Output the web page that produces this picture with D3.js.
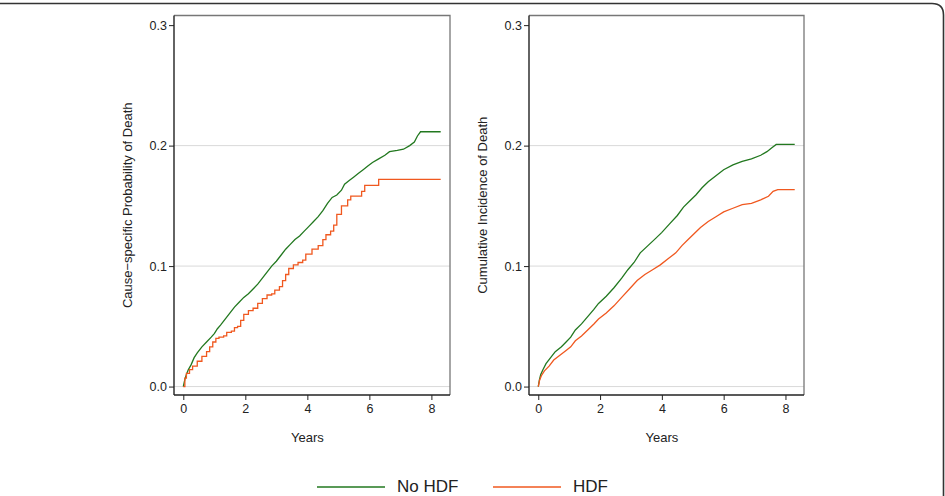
<!DOCTYPE html>
<html>
<head>
<meta charset="utf-8">
<script src="https://cdn.jsdelivr.net/npm/d3@7"></script>
<style>
  body { margin: 0; background: #fff; }
  svg { display: block; font-family: "Liberation Sans", Arial, sans-serif; }
</style>
</head>
<body>
<svg id="chart" width="945" height="496"></svg>
<script>
// values: [years, probability]
const leftNoHdf = [
  [0, 0], [0.05, 0.006], [0.1, 0.010], [0.16, 0.014], [0.25, 0.018], [0.35, 0.024],
  [0.45, 0.028], [0.6, 0.033], [0.75, 0.037], [0.9, 0.041], [1.0, 0.044], [1.1, 0.048],
  [1.2, 0.051], [1.35, 0.056], [1.5, 0.061], [1.65, 0.066], [1.8, 0.070], [1.95, 0.074],
  [2.1, 0.077], [2.25, 0.081], [2.4, 0.085], [2.55, 0.090], [2.7, 0.095], [2.85, 0.100],
  [3.0, 0.104], [3.15, 0.109], [3.3, 0.114], [3.45, 0.118], [3.6, 0.122], [3.75, 0.125],
  [3.9, 0.129], [4.05, 0.133], [4.2, 0.137], [4.35, 0.141], [4.5, 0.146], [4.65, 0.152],
  [4.8, 0.157], [4.95, 0.159], [5.1, 0.163], [5.2, 0.168], [5.35, 0.171], [5.5, 0.174],
  [5.65, 0.177], [5.8, 0.180], [5.95, 0.183], [6.1, 0.186], [6.3, 0.189], [6.5, 0.192],
  [6.65, 0.195], [6.9, 0.196], [7.1, 0.197], [7.3, 0.200], [7.45, 0.203], [7.55, 0.208],
  [7.65, 0.2115], [8.3, 0.2115]
];
const leftHdf = [
  [0, 0], [0.05, 0.007], [0.1, 0.011], [0.2, 0.014], [0.3, 0.017], [0.45, 0.021],
  [0.6, 0.025], [0.75, 0.029], [0.85, 0.033], [0.95, 0.037], [1.05, 0.040], [1.15, 0.041],
  [1.3, 0.042], [1.4, 0.045], [1.55, 0.046], [1.65, 0.049], [1.75, 0.050], [1.85, 0.055],
  [1.95, 0.060], [2.1, 0.063], [2.25, 0.065], [2.4, 0.069], [2.55, 0.073], [2.7, 0.076],
  [2.85, 0.077], [2.95, 0.080], [3.1, 0.083], [3.2, 0.088], [3.3, 0.093], [3.4, 0.098],
  [3.55, 0.101], [3.7, 0.103], [3.85, 0.105], [3.95, 0.110], [4.15, 0.114], [4.35, 0.117],
  [4.5, 0.122], [4.6, 0.126], [4.75, 0.129], [4.85, 0.134], [4.95, 0.143], [5.1, 0.150],
  [5.3, 0.155], [5.4, 0.158], [5.75, 0.162], [5.85, 0.167], [6.3, 0.172], [8.3, 0.172]
];
const rightNoHdf = [
  [0, 0], [0.04, 0.006], [0.08, 0.010], [0.15, 0.014], [0.25, 0.019], [0.4, 0.024],
  [0.55, 0.029], [0.75, 0.033], [0.9, 0.037], [1.05, 0.041], [1.2, 0.047], [1.4, 0.052],
  [1.6, 0.058], [1.8, 0.064], [1.95, 0.069], [2.2, 0.075], [2.45, 0.082], [2.7, 0.090],
  [2.9, 0.097], [3.1, 0.103], [3.3, 0.111], [3.55, 0.117], [3.8, 0.123], [4.0, 0.128],
  [4.25, 0.135], [4.5, 0.142], [4.7, 0.149], [4.9, 0.154], [5.1, 0.159], [5.3, 0.165],
  [5.5, 0.170], [5.75, 0.175], [6.0, 0.180], [6.3, 0.184], [6.6, 0.187], [6.9, 0.189],
  [7.2, 0.192], [7.4, 0.195], [7.55, 0.198], [7.7, 0.201], [8.3, 0.201]
];
const rightHdf = [
  [0, 0], [0.04, 0.005], [0.1, 0.009], [0.2, 0.013], [0.35, 0.017], [0.5, 0.022],
  [0.7, 0.026], [0.9, 0.030], [1.05, 0.033], [1.2, 0.038], [1.4, 0.042], [1.6, 0.047],
  [1.8, 0.052], [1.95, 0.056], [2.2, 0.061], [2.45, 0.067], [2.7, 0.074], [2.95, 0.081],
  [3.2, 0.088], [3.45, 0.093], [3.7, 0.097], [3.95, 0.101], [4.2, 0.106], [4.45, 0.111],
  [4.65, 0.117], [4.85, 0.122], [5.05, 0.127], [5.25, 0.132], [5.5, 0.137], [5.75, 0.141],
  [6.0, 0.145], [6.3, 0.148], [6.6, 0.151], [6.9, 0.152], [7.2, 0.155], [7.45, 0.158],
  [7.6, 0.162], [7.75, 0.1635], [8.3, 0.1635]
];

const xTicks = [0, 2, 4, 6, 8];
const yTicks = [0.0, 0.1, 0.2, 0.3];
const gridTicks = [0.0, 0.1, 0.2];
const seriesNames = ["No HDF", "HDF"];
const seriesColors = ["#22781f", "#f0581f"];

const svg = d3.select("#chart");

// outer frame (top edge with rounded right corner)
svg.append("path")
  .attr("d", "M0,3.5 H932 Q943.5,3.5 943.5,15 V496")
  .attr("fill", "none")
  .attr("stroke", "#333")
  .attr("stroke-width", 1.6);

// curves: [noHdf, hdf] each with its own interpolation
function panel(left, right, yTitle, noHdf, hdf, curves) {
  let x = d3.scaleLinear().domain([-0.3, 8.6]).range([left, right]);
  let y = d3.scaleLinear().domain([-0.007, 0.308]).range([395, 15.5]);
  let g = svg.append("g");

  g.selectAll("line.grid")
    .data(gridTicks)
    .enter().append("line")
    .attr("class", "grid")
    .attr("x1", left).attr("x2", right)
    .attr("y1", d => y(d)).attr("y2", d => y(d))
    .attr("stroke", "#d9d9d9")
    .attr("stroke-width", 1);

  // box (top + right lighter)
  g.append("path")
    .attr("d", `M${left},${y.range()[1]} H${right} V${y.range()[0]}`)
    .attr("fill", "none")
    .attr("stroke", "#777")
    .attr("stroke-width", 1.3);

  [noHdf, hdf].forEach(function (data, i) {
    let line = d3.line()
      .x(d => x(d[0]))
      .y(d => y(d[1]))
      .curve(curves[i]);
    g.append("path")
      .datum(data)
      .attr("d", line)
      .attr("fill", "none")
      .attr("stroke", seriesColors[i])
      .attr("stroke-width", 1.3);
  });

  let yAxis = g.append("g")
    .attr("transform", `translate(${left},0)`)
    .call(d3.axisLeft(y).tickValues(yTicks).tickFormat(d3.format(".1f")).tickSize(5).tickPadding(2));
  let xAxis = g.append("g")
    .attr("transform", `translate(0,${y.range()[0]})`)
    .call(d3.axisBottom(x).tickValues(xTicks).tickFormat(d3.format("d")).tickSize(5).tickPadding(4));

  [yAxis, xAxis].forEach(function (a) {
    a.select(".domain").attr("stroke", "#222").attr("stroke-width", 1.4);
    a.selectAll(".tick line").attr("stroke", "#222");
    a.selectAll(".tick text")
      .attr("fill", "#222")
      .style("font-family", "Liberation Sans, Arial, sans-serif")
      .style("font-size", "12.5px");
  });
  // axis domain lines: keep them straight (no outer tick hooks)
  yAxis.select(".domain").attr("d", `M0,${y.range()[0]}V${y.range()[1]}`);
  xAxis.select(".domain").attr("d", `M${left},0H${right}`);

  g.append("text")
    .attr("x", (x(0) + x(8)) / 2)
    .attr("y", 442)
    .attr("text-anchor", "middle")
    .attr("fill", "#222")
    .style("font-size", "13px")
    .text("Years");

  g.append("text")
    .attr("transform", `translate(${left - 42},${(y.range()[0] + y.range()[1]) / 2}) rotate(-90)`)
    .attr("text-anchor", "middle")
    .attr("fill", "#222")
    .style("font-size", "13px")
    .text(yTitle);
}

panel(174, 450, "Cause\u2212specific Probability of Death", leftNoHdf, leftHdf,
  [d3.curveLinear, d3.curveStepAfter]);
panel(529, 804, "Cumulative Incidence of Death", rightNoHdf, rightHdf,
  [d3.curveLinear, d3.curveLinear]);

// legend
const legendX = [317, 493];
const legend = svg.append("g");
seriesNames.forEach(function (name, i) {
  legend.append("line")
    .attr("x1", legendX[i]).attr("x2", legendX[i] + 68)
    .attr("y1", 487).attr("y2", 487)
    .attr("stroke", seriesColors[i])
    .attr("stroke-width", 1.4);
  legend.append("text")
    .attr("x", legendX[i] + 80)
    .attr("y", 492)
    .attr("fill", "#222")
    .style("font-size", "17px")
    .text(name);
});
</script>
</body>
</html>
